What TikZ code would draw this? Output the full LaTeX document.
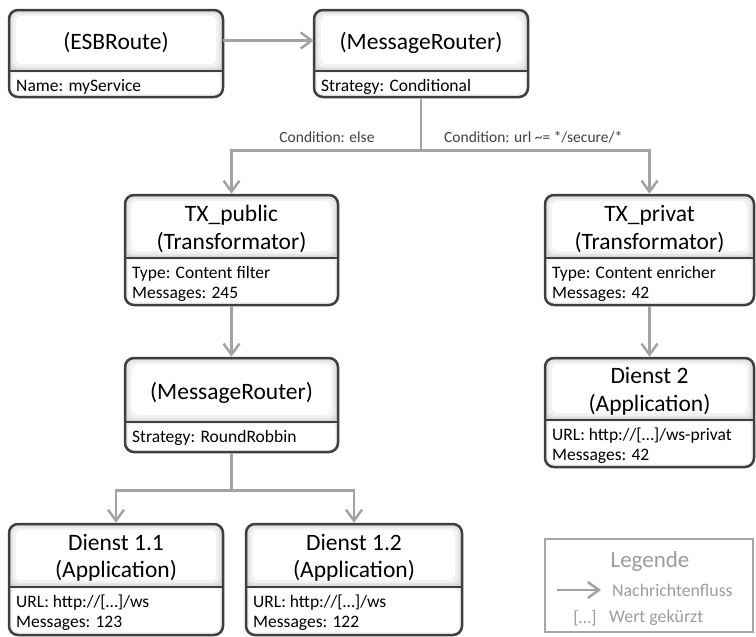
\documentclass[tikz,border=0pt]{standalone}
\usepackage{fontspec}
\setmainfont{Carlito}
\usetikzlibrary{arrows.meta,fit,calc}

\definecolor{boxedge}{HTML}{3F3F3F}
\definecolor{flowgray}{HTML}{A3A3A3}
\definecolor{labelgray}{HTML}{404040}
\definecolor{legendedge}{HTML}{A6A6A6}
\definecolor{legendtext}{HTML}{9C9C9C}
\definecolor{bevelA}{HTML}{D4D4D4}
\definecolor{bevelB}{HTML}{E4E4E4}
\definecolor{bevelC}{HTML}{F2F2F2}

\newcommand\headfont{\fontsize{23.5}{27.5}\selectfont}
\newcommand\bodyfont{\fontsize{17.5}{20}\selectfont}
\newcommand\condfont{\fontsize{15.5}{18}\selectfont}
\newcommand\legtitlefont{\fontsize{23}{26}\selectfont}
\newcommand\legitemfont{\fontsize{17.8}{20}\selectfont}

\tikzset{
  flow/.style={draw=flowgray, line width=2.5pt,
    -{Straight Barb[length=11pt,width=16pt,line width=2.5pt]}},
  frame/.style={draw=boxedge, line width=2.5pt, rounded corners=9pt, inner sep=0pt},
  divline/.style={draw=boxedge, line width=2pt},
  headtext/.style={inner sep=0pt, font=\headfont, align=center, text=black},
  bodytext/.style={inner sep=0pt, font=\bodyfont, text=black, anchor=base west},
  condlabel/.style={inner sep=0pt, font=\condfont, text=labelgray},
  legendbox/.style={draw=legendedge, line width=2.5pt, inner sep=0pt},
}

% #1 name, #2 left, #3 top, #4 divider, #5 right, #6 bottom,
% #7 title, #8 first body line, #9 second body line
\newcommand\compbox[9]{%
  \coordinate (#1-tl) at (#2,#3);
  \coordinate (#1-dr) at (#5,#4);
  \coordinate (#1-dl) at (#2,#4);
  \coordinate (#1-br) at (#5,#6);
  \begin{scope}
    \clip[rounded corners=9pt] (#1-tl) rectangle (#1-br);
    \fill[white] (#1-tl) rectangle (#1-br);
    % soft bevel of the title area
    \fill[bevelA] (#1-tl) rectangle (#1-dr);
    \fill[bevelB, rounded corners=6pt] ({#2+2},{#3+2}) rectangle ({#5-2},{#4-2});
    \fill[bevelC, rounded corners=6pt] ({#2+4},{#3+4}) rectangle ({#5-4},{#4-4});
    \fill[white, rounded corners=6pt] ({#2+7},{#3+6}) rectangle ({#5-7},{#4-7});
    % thin bevel of the attribute area
    \fill[bevelC] (#1-dl) rectangle (#1-br);
    \fill[white, rounded corners=4pt] ({#2+3},{#4+2}) rectangle ({#5-3},{#6-3});
  \end{scope}
  \node[fit=(#1-tl)(#1-dr), inner sep=0pt] (#1-head) {};
  \node[headtext, yshift=-2.5pt] at (#1-head.center) {#7};
  \node[fit=(#1-dl)(#1-br), inner sep=0pt] (#1-body) {};
  \node[bodytext] at ({#2+7},{#4+20.5}) {#8};
  \node[bodytext] at ({#2+7},{#4+40}) {#9};
  \draw[divline] (#1-dl) -- (#1-dr);
  \node[frame, fit=(#1-tl)(#1-br)] (#1) {};
}

\begin{document}
\begin{tikzpicture}[x=1pt, y=-1pt]
  \useasboundingbox (0,0) rectangle (756,637);

  % components
  \compbox{esb}{9}{10}{71}{223}{97}{(ESBRoute)}{Name: myService}{}
  \compbox{mrA}{314}{10}{71}{528}{97}{(MessageRouter)}{Strategy: Conditional}{}
  \compbox{txpub}{125}{195}{258}{338}{305}{TX\_public\\(Transformator)}{Type: Content filter}{Messages: 245}
  \compbox{txpriv}{545}{195}{258}{754}{305}{TX\_privat\\(Transformator)}{Type: Content enricher}{Messages: 42}
  \compbox{mrB}{125}{358}{422}{338}{452}{(MessageRouter)}{Strategy: RoundRobbin}{}
  \compbox{dB}{545}{358}{420}{754}{467}{Dienst 2\\(Application)}{URL: http://[…]/ws-privat}{Messages: 42}
  \compbox{dAa}{9}{524}{587}{223}{635}{Dienst 1.1\\(Application)}{URL: http://[…]/ws}{Messages: 123}
  \compbox{dAb}{246}{524}{587}{462}{635}{Dienst 1.2\\(Application)}{URL: http://[…]/ws}{Messages: 122}

  % message flow
  \draw[flow] (esb-head) -- (mrA-head);
  \draw[flow] (mrA.south) -- ++(0,52) -| (txpub.north);
  \draw[flow] (mrA.south) -- ++(0,52) -| (txpriv.north);
  \draw[flow] (txpub) -- (mrB);
  \draw[flow] (txpriv) -- (dB);
  \draw[flow] (mrB.south) -- ++(0,37) -| (dAa.north);
  \draw[flow] (mrB.south) -- ++(0,37) -| (dAb.north);

  % routing conditions
  \node[condlabel, anchor=base] (condElse) at (327,142) {Condition: else};
  \node[condlabel, anchor=base west] (condSec) at (444,142) {Condition: url \textasciitilde= */secure/*};

  % legend
  \coordinate (lg-tl) at (545,539);
  \coordinate (lg-br) at (753,632);
  \node[legendbox, fit=(lg-tl)(lg-br)] (legend) {};
  \node[inner sep=0pt, font=\legtitlefont, text=legendtext] (lgTitle) at (650,561) {Legende};
  \coordinate (lgA) at (557,590);
  \coordinate (lgB) at (601,590);
  \draw[flow] (lgA) -- (lgB);
  \node[inner sep=0pt, font=\legitemfont, text=legendtext, anchor=west] (lgFlow) at (612,590) {Nachrichtenfluss};
  \node[inner sep=0pt, font=\legitemfont, text=legendtext] (lgDots) at (585,618) {[…]};
  \node[inner sep=0pt, font=\legitemfont, text=legendtext, anchor=west] (lgCut) at (609,618) {Wert gekürzt};
\end{tikzpicture}
\end{document}
